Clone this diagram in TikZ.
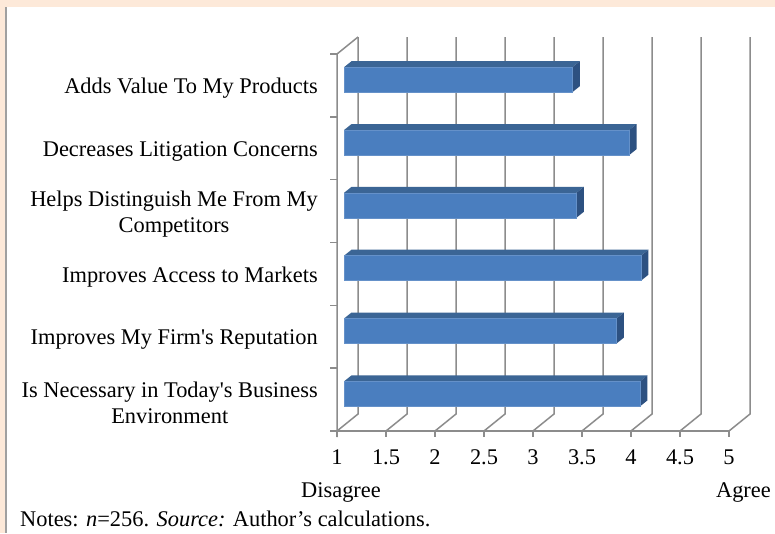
\documentclass[tikz,border=0pt]{standalone}
\usepackage{fontspec}
\setmainfont{Liberation Serif}
\usetikzlibrary{positioning}
\definecolor{peach}{HTML}{FDE9D9}
\definecolor{framegray}{HTML}{A0A0A0}
\definecolor{gridgray}{HTML}{8C8C8C}
\definecolor{barfront}{HTML}{4A7EBF}
\definecolor{bartop}{HTML}{3B6595}
\definecolor{barside}{HTML}{2D5181}
\tikzset{grid line/.style={draw=gridgray,line width=1.5pt},
         axis line/.style={draw=gridgray,line width=1.5pt},
         cat label/.style={anchor=east,align=center,inner sep=0pt,
                           font=\fontsize{22.4}{26}\selectfont},
         tick label/.style={anchor=base,inner sep=0pt,font=\fontsize{22.4}{26}\selectfont},
         end label/.style={inner sep=0pt,font=\fontsize{22.4}{26}\selectfont},
         bar front/.style={fill=barfront,draw=barfront!85!white,line width=0.5pt},
         bar top/.style={fill=bartop},
         bar side/.style={fill=barside}
         }

\begin{document}
\begin{tikzpicture}[x=1pt,y=-1pt]
\useasboundingbox (0,0) rectangle (775,533);
% frame
\fill[peach] (0,0) rectangle (775,533);
\fill[white] (6,7) rectangle (775,533);
\draw[framegray,line width=1.5pt] (6,7) -- (6,533);

% back wall and floor
\foreach \k in {0,...,8}{
  \coordinate (t\k) at (358+49*\k,37);
  \coordinate (b\k) at (358+49*\k,414);
  \coordinate (f\k) at (337+49*\k,431);
  \coordinate (d\k) at (337+49*\k,437);
  \draw[grid line] (t\k) -- (b\k) -- (f\k);
}

% bars
\foreach \v/\i in {3.33/1,3.91/2,3.37/3,4.03/4,3.78/5,4.02/6}{
  \pgfmathsetmacro{\c}{54+62.83*(\i-0.5)-5.7}
  \pgfmathsetmacro{\r}{344+(\v-1)*98}
  \fill[bar top] (344,\c-12.5) -- (\r,\c-12.5) -- (\r+7.5,\c-18.5) -- (351.5,\c-18.5) -- cycle;
  \fill[bar side] (\r,\c-12.5) -- (\r+7.5,\c-18.5) -- (\r+7.5,\c+6.5) -- (\r,\c+12.5) -- cycle;
  \draw[bar front] (344,\c-12.5) rectangle (\r,\c+12.5);
}

% front axes
\coordinate (ltop) at (337,54);
\coordinate (lbot) at (337,437);
\coordinate (l0) at (330,431);
\draw[axis line] (t0) -- (ltop) -- (lbot);
\draw[axis line] (l0) -- (f8);
\foreach \k in {0,...,8}
  \draw[axis line] (f\k) -- (d\k);
\foreach \j in {0,...,5}{
  \coordinate (ca\j) at (330,54+62.83*\j);
  \coordinate (cb\j) at (337,54+62.83*\j);
  \draw[axis line] (ca\j) -- (cb\j);
}

% category labels
\node[cat label] (lab1) at (318,88.5) {Adds Value To My Products};
\node[cat label] (lab2) at (318,151.3) {Decreases Litigation Concerns};
\node[cat label] (lab3) at (318,214.2) {Helps Distinguish Me From My\\Competitors};
\node[cat label] (lab4) at (318,277) {Improves Access to Markets};
\node[cat label] (lab5) at (318,339.8) {Improves My Firm\textquotesingle s Reputation};
\node[cat label] (lab6) at (318,402.7) {Is Necessary in Today\textquotesingle s Business\\Environment};

% value labels
\foreach \t [count=\k from 0] in {1,1.5,2,2.5,3,3.5,4,4.5,5}
  \node[tick label] (tl\k) at (337+49*\k,464) {\t};

\node[end label,anchor=base west] (dis) at (301,497) {Disagree};
\node[end label,anchor=base east] (agr) at (771,497) {Agree};
\node[end label,anchor=base west] (notes) at (20,526) {Notes: \textit{n}=256. \textit{Source:} Author’s calculations.};
\end{tikzpicture}
\end{document}
